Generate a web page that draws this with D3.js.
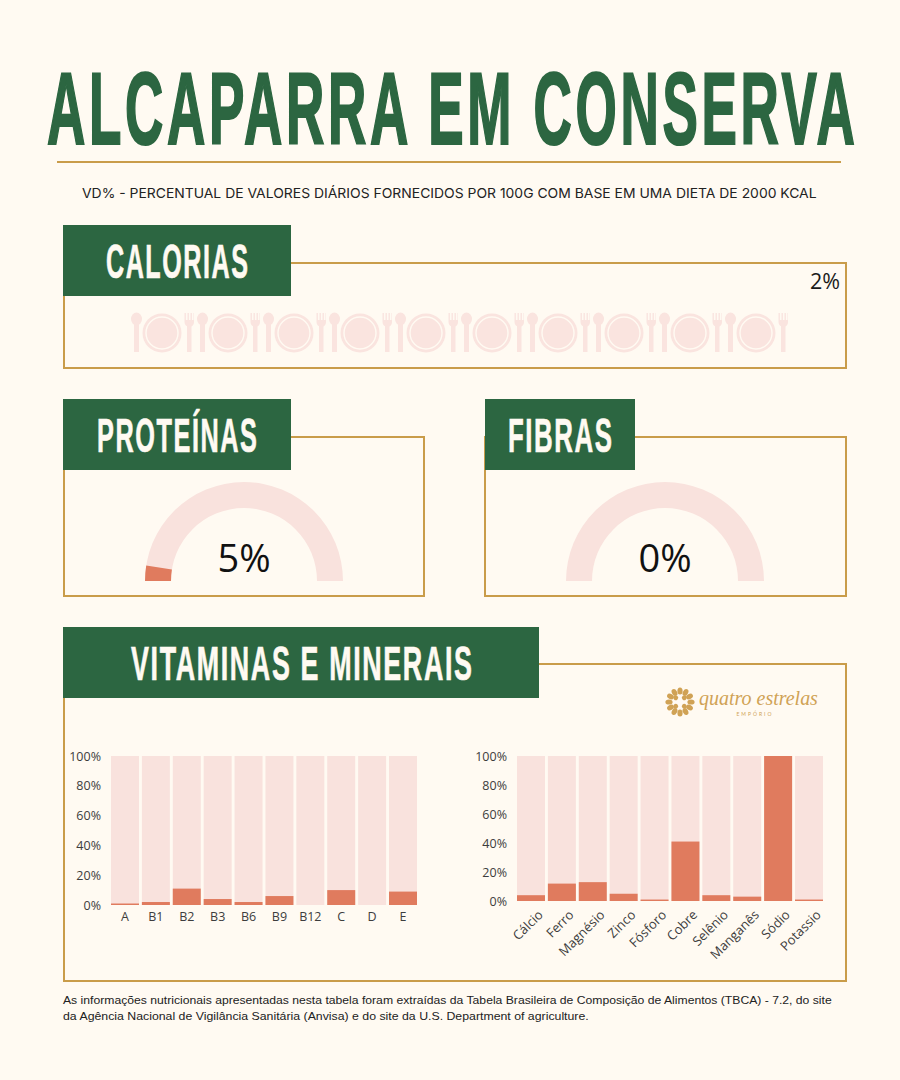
<!DOCTYPE html>
<html lang="pt">
<head>
<meta charset="utf-8">
<title>Alcaparra em conserva</title>
<script src="https://cdn.jsdelivr.net/npm/d3@7"></script>
<style>
  html, body { margin: 0; padding: 0; background: #fffaf2; }
  svg { display: block; }
  .tick text { font-family: "Open Sans", sans-serif; font-size: 12.5px; fill: #3d3d3d; }
</style>
</head>
<body>
<div id="chart"></div>
<script>
// valores
const vitaminNames = ['A', 'B1', 'B2', 'B3', 'B6', 'B9', 'B12', 'C', 'D', 'E'];
const vitaminValues = [1, 2, 11, 4, 2, 6, 0, 10, 0, 9];
const mineralNames = ['Cálcio', 'Ferro', 'Magnésio', 'Zinco', 'Fósforo', 'Cobre', 'Selênio', 'Manganês', 'Sódio', 'Potassio'];
const mineralValues = [4, 12, 13, 5, 1, 41, 4, 3, 100, 1];
const yTicks = [0, 20, 40, 60, 80, 100];
const gaugeNames = ['PROTEÍNAS', 'FIBRAS'];
const gaugeValues = [5, 0];
const calorieValue = 2;
const plateSlots = [0, 1, 2, 3, 4, 5, 6, 7, 8, 9];

const green = '#2c6641', gold = '#c99c4a', pale = '#f9e2dd', red = '#e07b5e';
const narrow = '"Liberation Sans Narrow", "Liberation Sans", sans-serif';

const svg = d3.select('#chart').append('svg')
  .attr('width', 900)
  .attr('height', 1080);

svg.append('rect').attr('width', 900).attr('height', 1080).attr('fill', '#fffaf2');

// ajusta a largura do texto sem textLength
function fitText(sel, x, y, width, spacing) {
  sel.attr('letter-spacing', spacing);
  const natural = sel.node().getComputedTextLength() - spacing;
  sel.attr('transform', `translate(${x},${y}) scale(${width / natural},1)`);
}

// titulo
const title = svg.append('text')
  .attr('font-family', narrow)
  .attr('font-weight', 700).attr('font-size', 102)
  .attr('fill', green).attr('stroke', green).attr('stroke-width', 2.2)
  .text('ALCAPARRA EM CONSERVA');
fitText(title, 47, 144, 808, 7);

svg.append('line')
  .attr('x1', 57).attr('x2', 841).attr('y1', 162).attr('y2', 162)
  .attr('stroke', gold).attr('stroke-width', 2);

const subtitle = svg.append('text')
  .attr('font-family', 'Inter, sans-serif').attr('font-size', 13.5)
  .attr('fill', '#222')
  .text('VD% - PERCENTUAL DE VALORES DIÁRIOS FORNECIDOS POR 100G COM BASE EM UMA DIETA DE 2000 KCAL');
fitText(subtitle, 82, 198, 735, 0);

// caixa dourada + cabecalho verde
function panel(box, head, label, textX, textW) {
  svg.append('rect')
    .attr('x', box[0]).attr('y', box[1]).attr('width', box[2] - box[0]).attr('height', box[3] - box[1])
    .attr('fill', 'none').attr('stroke', gold).attr('stroke-width', 2);
  svg.append('rect')
    .attr('x', head[0]).attr('y', head[1]).attr('width', head[2] - head[0]).attr('height', 71)
    .attr('fill', green);
  const t = svg.append('text')
    .attr('font-family', narrow)
    .attr('font-weight', 700).attr('font-size', 49)
    .attr('fill', '#fffaf2').attr('stroke', '#fffaf2').attr('stroke-width', 0.7)
    .text(label);
  fitText(t, textX, head[1] + 53, textW, 3);
}

panel([64, 263, 846, 368], [63, 225, 291], 'CALORIAS', 106, 142);
panel([64, 437, 424, 596], [63, 399, 291], gaugeNames[0], 97, 160);
panel([485, 437, 846, 596], [485, 399, 635], gaugeNames[1], 508, 104);
panel([64, 664, 846, 981], [63, 627, 539], 'VITAMINAS E MINERAIS', 131, 341);

// pictograma de pratos
const plateX = d3.scaleBand().domain(plateSlots).range([130, 790]);
const plates = svg.append('g').attr('fill', '#fae4df')
  .selectAll('g').data(plateSlots).enter().append('g')
  .attr('transform', d => `translate(${plateX(d)},312)`);

plates.append('ellipse').attr('cx', 6.500).attr('cy', 7).attr('rx', 5.5).attr('ry', 6.500);
plates.append('rect').attr('x', 4).attr('y', 8).attr('width', 5).attr('height', 32);
plates.append('circle').attr('cx', 32).attr('cy', 21).attr('r', 19.5);
plates.append('circle').attr('cx', 32).attr('cy', 21).attr('r', 16).attr('fill', 'none')
  .attr('stroke', '#fffaf2').attr('stroke-width', 1.4);
plates.append('rect').attr('x', 57).attr('y', 12).attr('width', 4.500).attr('height', 28);
plates.append('path').attr('d', 'M54.5 1h1.4v7h1.600V1h1.400v7h1.600V1h1.400v7h1.600V1H64v9q0 4 -4 5h-1q-4.500 -1 -4.500 -5z');

svg.append('text')
  .attr('x', 825).attr('y', 289)
  .attr('text-anchor', 'middle')
  .attr('font-family', '"Open Sans", sans-serif').attr('font-size', 21.5)
  .attr('fill', '#1a1a1a')
  .text(calorieValue + '%');

// medidores
const gaugeAngle = d3.scaleLinear().domain([0, 100]).range([-Math.PI / 2, Math.PI / 2]);
const gaugeArc = d3.arc().innerRadius(73).outerRadius(99);
const gaugeCenters = [244, 665];

gaugeValues.forEach((v, i) => {
  const g = svg.append('g').attr('transform', `translate(${gaugeCenters[i]},581)`);
  g.append('path')
    .attr('d', gaugeArc({ startAngle: gaugeAngle(0), endAngle: gaugeAngle(100) }))
    .attr('fill', pale);
  if (v > 0) {
    g.append('path')
      .attr('d', gaugeArc({ startAngle: gaugeAngle(0), endAngle: gaugeAngle(v) }))
      .attr('fill', red);
  }
  g.append('text')
    .attr('y', -9)
    .attr('text-anchor', 'middle')
    .attr('font-family', '"Open Sans", sans-serif').attr('font-size', 38)
    .attr('fill', '#111')
    .text(v + '%');
});

// barras
function barChart(names, values, xRange, yRange, rotated) {
  const x = d3.scaleBand().domain(names).range(xRange).paddingInner(0.094).paddingOuter(0);
  const y = d3.scaleLinear().domain([0, 100]).range(yRange);
  const g = svg.append('g');

  g.selectAll('.bg').data(names).enter().append('rect')
    .attr('class', 'bg')
    .attr('x', d => x(d)).attr('width', x.bandwidth())
    .attr('y', y(100)).attr('height', y(0) - y(100))
    .attr('fill', pale);

  g.selectAll('.bar').data(values).enter().append('rect')
    .attr('class', 'bar')
    .attr('x', (d, i) => x(names[i])).attr('width', x.bandwidth())
    .attr('y', d => y(d)).attr('height', d => y(0) - y(d))
    .attr('fill', red);

  const yAxis = g.append('g')
    .attr('transform', `translate(${xRange[0] - 4},0)`)
    .call(d3.axisLeft(y).tickValues(yTicks).tickSize(0).tickPadding(6).tickFormat(d => d + '%'));
  yAxis.select('.domain').remove();

  const xAxis = g.append('g')
    .attr('transform', `translate(0,${yRange[0]})`)
    .call(d3.axisBottom(x).tickSize(0).tickPadding(7));
  xAxis.select('.domain').remove();

  if (rotated) {
    xAxis.selectAll('text')
      .style('text-anchor', 'end')
      .style('font-size', '13px')
      .attr('dx', '-0.1em')
      .attr('dy', '0.95em')
      .attr('transform', 'rotate(-45)');
  }
}

barChart(vitaminNames, vitaminValues, [111, 417], [905, 756], false);
barChart(mineralNames, mineralValues, [517, 823], [901, 756], true);

// marca
const logo = svg.append('g').attr('transform', 'translate(680,702)').attr('fill', '#d0a255');
d3.range(12).forEach(i => {
  logo.append('ellipse')
    .attr('cx', 0).attr('cy', -11).attr('rx', 2.6).attr('ry', 3.6)
    .attr('transform', `rotate(${i * 30})`);
});
d3.range(4).forEach(i => {
  logo.append('circle')
    .attr('cx', 0).attr('cy', -6)
    .attr('r', 2.4)
    .attr('transform', `rotate(${45 + i * 90})`);
});
const brand = svg.append('text')
  .attr('font-family', '"Liberation Serif", serif').attr('font-style', 'italic').attr('font-size', 22)
  .attr('fill', '#d0a255')
  .text('quatro estrelas');
fitText(brand, 699, 705, 119, 0);
svg.append('text')
  .attr('x', 755).attr('y', 716)
  .attr('text-anchor', 'middle').attr('letter-spacing', 2)
  .attr('font-family', 'Lato, sans-serif').attr('font-size', 5)
  .attr('fill', '#d0a255')
  .text('EMPÓRIO');

// nota de rodape
const footer = [
  'As informações nutricionais apresentadas nesta tabela foram extraídas da Tabela Brasileira de Composição de Alimentos (TBCA) - 7.2, do site',
  'da Agência Nacional de Vigilância Sanitária (Anvisa) e do site da U.S. Department of agriculture.'
];
const footerWidths = [770, 526];
footer.forEach((line, i) => {
  const t = svg.append('text')
    .attr('font-family', '"Liberation Sans", Arial, sans-serif').attr('font-size', 11.5)
    .attr('fill', '#222')
    .text(line);
  fitText(t, 63, 1004 + i * 16, footerWidths[i], 0);
});
</script>
</body>
</html>
